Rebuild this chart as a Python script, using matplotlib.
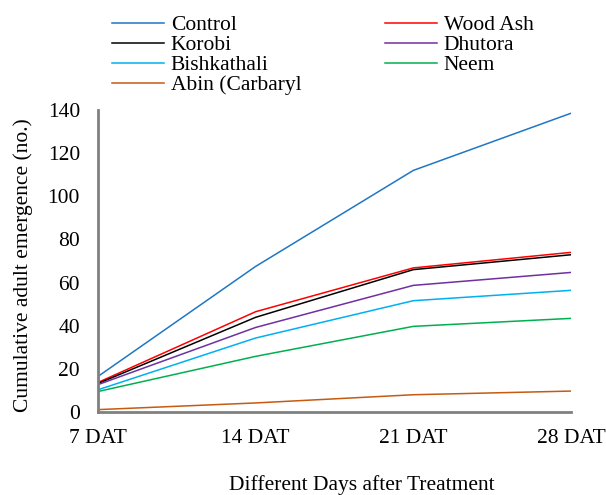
import matplotlib
matplotlib.use("Agg")
import matplotlib.pyplot as plt

categories = ["7 DAT", "14 DAT", "21 DAT", "28 DAT"]
control = [16.5, 67.5, 112.0, 138.5]
wood_ash = [13.7, 46.5, 66.8, 74.0]
korobi = [13.2, 43.9, 66.0, 72.9]
dhutora = [12.7, 39.2, 58.7, 64.7]
bishkathali = [10.3, 34.3, 51.6, 56.4]
neem = [9.5, 25.8, 39.7, 43.4]
abin = [1.1, 4.2, 8.0, 9.7]

series = [
    ("Control", control, "#1F77C4"),
    ("Wood Ash", wood_ash, "#FF0000"),
    ("Korobi", korobi, "#000000"),
    ("Dhutora", dhutora, "#7030A0"),
    ("Bishkathali", bishkathali, "#00B0F0"),
    ("Neem", neem, "#00B050"),
    ("Abin (Carbaryl", abin, "#C55A11"),
]

plt.rcParams['font.family'] = ['Liberation Serif', 'DejaVu Serif']
FS = 15.5

fig = plt.figure(figsize=(6.06, 4.95), dpi=100)
ax = fig.add_axes([98/606, 1-412/495, (571-98)/606, (412-110)/495])

x = list(range(len(categories)))
handles = {}
for name, vals, col in series:
    h, = ax.plot(x, vals, color=col, lw=1.1, label=name)
    handles[name] = h

ax.set_xlim(0, 3)
ax.set_ylim(0, 140)
ax.set_yticks(range(0, 141, 20))
ax.set_xticks(x)
ax.set_xticklabels(categories)
ax.tick_params(axis='both', length=0, labelsize=FS)
ax.tick_params(axis='y', pad=13)
ax.tick_params(axis='x', pad=12)
for s in ['top', 'right']:
    ax.spines[s].set_visible(False)
for s in ['left', 'bottom']:
    ax.spines[s].set_color('#808080')
    ax.spines[s].set_linewidth(2)

fig.text(23/606, 1-265/495, "Cumulative adult emergence (no.)", fontsize=FS,
         rotation=90, ha='center', va='center')
fig.text(362/606, 1-485/495, "Different Days after Treatment", fontsize=FS,
         ha='center', va='center')

col1 = ["Control", "Korobi", "Bishkathali", "Abin (Carbaryl"]
col2 = ["Wood Ash", "Dhutora", "Neem"]
kw = dict(loc='upper left', frameon=False, fontsize=FS, handlelength=2.4,
          handletextpad=0.33, labelspacing=0.0, borderpad=0, borderaxespad=0)
leg1 = fig.legend([handles[n] for n in col1], col1,
                  bbox_to_anchor=(112/606, 1-15/495), **kw)
leg2 = fig.legend([handles[n] for n in col2], col2,
                  bbox_to_anchor=(385/606, 1-15/495), **kw)

fig.savefig("out.png", dpi=100)
